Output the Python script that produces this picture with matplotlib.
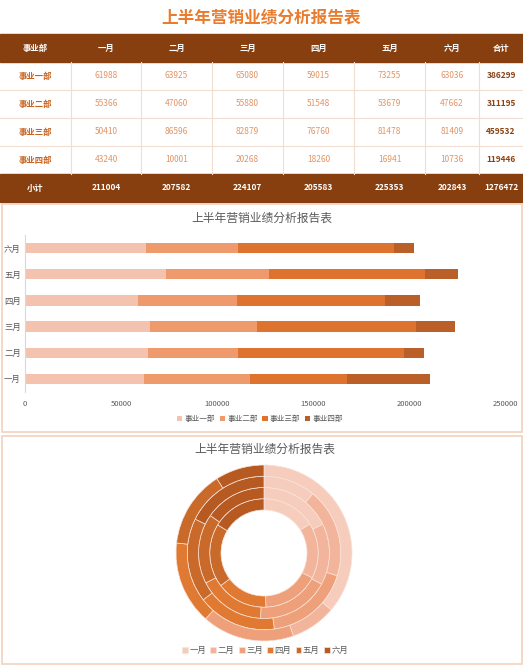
import numpy as np
import matplotlib
matplotlib.use("Agg")
from matplotlib import pyplot as plt
from matplotlib.patches import Rectangle

plt.rcParams['font.family'] = ['Noto Sans CJK SC', 'DejaVu Sans']

title = "上半年营销业绩分析报告表"
months = ["一月", "二月", "三月", "四月", "五月", "六月"]
depts = ["事业一部", "事业二部", "事业三部", "事业四部"]
dept1 = [61988, 63925, 65080, 59015, 73255, 63036]
dept2 = [55366, 47060, 55880, 51548, 53679, 47662]
dept3 = [50410, 86596, 82879, 76760, 81478, 81409]
dept4 = [43240, 10001, 20268, 18260, 16941, 10736]
values = [dept1, dept2, dept3, dept4]

dept_colors = ["#F4C3AF", "#EE9A6C", "#DD732E", "#B95F27"]
month_colors = ["#F6CDBD", "#F2B59B", "#EEA07A", "#E07A33", "#C96A2B", "#B65A22"]
brown = "#873F10"
W, H = 523, 666

fig = plt.figure(figsize=(W / 100, H / 100), dpi=100)
bg = fig.add_axes([0, 0, 1, 1])
bg.set_xlim(0, W)
bg.set_ylim(H, 0)
bg.axis("off")

# ---- table ----
bg.text(W / 2, 17, title, ha="center", va="center", fontsize=12,
        fontweight="bold", color="#E97C2E")
col_x = [0, 71, 141, 212, 283, 354, 425, 479, W]
row_y = [34, 62, 90, 118, 146, 174, 202]
bg.add_patch(Rectangle((0, row_y[0]), W, row_y[1] - row_y[0], color=brown))
bg.add_patch(Rectangle((0, row_y[5]), W, row_y[6] - row_y[5], color=brown))
for x in col_x[1:-1]:
    bg.plot([x, x], [row_y[1], row_y[5]], color="#F1DDD2", lw=0.8)
for y in row_y[2:5]:
    bg.plot([0, W], [y, y], color="#F1DDD2", lw=0.8)

header = ["事业部"] + months + ["合计"]
for i, h in enumerate(header):
    cx = (col_x[i] + col_x[i + 1]) / 2
    bg.text(cx, (row_y[0] + row_y[1]) / 2, h, ha="center", va="center",
            fontsize=6, color="white", fontweight="bold")
for r, (d, vals) in enumerate(zip(depts, values)):
    cy = (row_y[r + 1] + row_y[r + 2]) / 2
    bg.text((col_x[0] + col_x[1]) / 2, cy, d, ha="center", va="center",
            fontsize=6, color="#C9621D", fontweight="bold")
    for c, v in enumerate(vals):
        cx = (col_x[c + 1] + col_x[c + 2]) / 2
        bg.text(cx, cy, str(v), ha="center", va="center", fontsize=6,
                color="#E39464")
    bg.text((col_x[7] + col_x[8]) / 2, cy, str(sum(vals)), ha="center",
            va="center", fontsize=6, color="#8B4214", fontweight="bold")
month_tot = [sum(v[i] for v in values) for i in range(6)]
cy = (row_y[5] + row_y[6]) / 2
bg.text((col_x[0] + col_x[1]) / 2, cy, "小计", ha="center", va="center",
        fontsize=6, color="white", fontweight="bold")
for c, v in enumerate(month_tot):
    cx = (col_x[c + 1] + col_x[c + 2]) / 2
    bg.text(cx, cy, str(v), ha="center", va="center", fontsize=6,
            color="white", fontweight="bold")
bg.text((col_x[7] + col_x[8]) / 2, cy, str(sum(month_tot)), ha="center",
        va="center", fontsize=6, color="white", fontweight="bold")

# ---- panels ----
for y0, y1 in [(204, 432), (436, 664)]:
    bg.add_patch(Rectangle((1.5, y0), W - 3, y1 - y0, fill=False,
                           edgecolor="#F2D2BE", lw=1.2))
bg.text(W / 2, 218, title, ha="center", va="center", fontsize=8.5,
        color="#595959")
bg.text(265, 449, title, ha="center", va="center", fontsize=8.5,
        color="#595959")


def fig_box(x0, y0, x1, y1):
    return [x0 / W, 1 - y1 / H, (x1 - x0) / W, (y1 - y0) / H]


# ---- stacked bar ----
ax = fig.add_axes(fig_box(25, 235, 505, 392))
ypos = np.arange(len(months))
left = np.zeros(len(months))
for d, vals, col in zip(depts, values, dept_colors):
    ax.barh(ypos, vals, left=left, height=0.4, color=col, label=d)
    left += np.array(vals)
ax.set_xlim(0, 250000)
ax.set_ylim(-0.5, 5.5)
ax.set_yticks(ypos)
ax.set_yticklabels(months, fontsize=6, color="#595959")
ax.set_xticks(np.arange(0, 250001, 50000))
ax.set_xticklabels([str(t) for t in range(0, 250001, 50000)], fontsize=5.5,
                   color="#595959")
ax.tick_params(length=0, pad=3)
ax.tick_params(axis="x", pad=6)
for s in ["top", "right", "bottom"]:
    ax.spines[s].set_visible(False)
ax.spines["left"].set_color("#D9D9D9")
ax.set_facecolor("none")
fig.legend(*ax.get_legend_handles_labels(), loc="center", ncol=4,
           bbox_to_anchor=(260 / W, 1 - 419 / H), frameon=False, fontsize=5.5,
           handlelength=0.7, handleheight=0.7, handletextpad=0.3,
           columnspacing=0.6, labelcolor="#595959")

# ---- doughnut ----
dx = fig.add_axes(fig_box(164, 453, 364, 653))
dx.set_xlim(-1, 1)
dx.set_ylim(-1, 1)
dx.set_aspect("equal")
dx.axis("off")
ring_w = 0.1125
for i, vals in enumerate(values):
    r = 0.43 + ring_w * (i + 1)
    wedges, _ = dx.pie(vals, radius=r, colors=month_colors, startangle=90,
                       counterclock=False,
                       wedgeprops=dict(width=ring_w, edgecolor="#F8E3D8",
                                       linewidth=0.5))
    if i == 0:
        handles = wedges
dx.set_xlim(-1, 1)
dx.set_ylim(-1, 1)
fig.legend(handles, months, loc="center", ncol=6,
           bbox_to_anchor=(265 / W, 1 - 650 / H), frameon=False, fontsize=6,
           handlelength=0.7, handleheight=0.7, handletextpad=0.2,
           columnspacing=0.5, labelcolor="#595959")

fig.savefig("out.png", dpi=100)
